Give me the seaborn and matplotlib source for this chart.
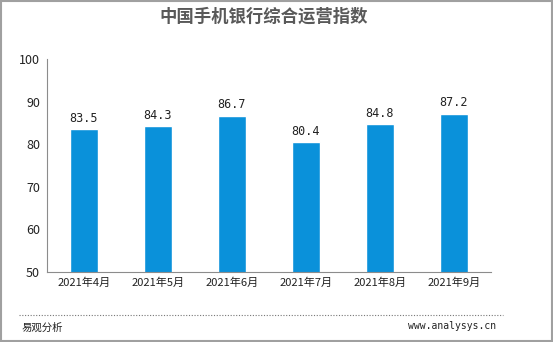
import matplotlib
matplotlib.use("Agg")
import matplotlib.pyplot as plt
import seaborn as sns
import pandas as pd
from matplotlib.patches import Rectangle
from matplotlib.lines import Line2D

months = ["2021年4月", "2021年5月", "2021年6月", "2021年7月", "2021年8月", "2021年9月"]
values = [83.5, 84.3, 86.7, 80.4, 84.8, 87.2]
yticks = [50, 60, 70, 80, 90, 100]
title = "中国手机银行综合运营指数"

sns.set_theme(style="white")
plt.rcParams['font.family'] = ['Noto Sans CJK SC', 'DejaVu Sans']

df = pd.DataFrame({"month": months, "value": values})

fig = plt.figure(figsize=(5.53, 3.42), dpi=100)
ax = fig.add_axes([47/553, 1 - 272/342, 444/553, (272-59)/342])
sns.barplot(data=df, x="month", y="value", color="#0A91DA", width=0.37,
            saturation=1, ax=ax)
ax.set_ylim(50, 100)
ax.set_yticks(yticks)
ax.set_xlabel("")
ax.set_ylabel("")
for s in ["top", "right"]:
    ax.spines[s].set_visible(False)
for s in ["left", "bottom"]:
    ax.spines[s].set_color("#8c8c8c")
    ax.spines[s].set_linewidth(0.8)
ax.tick_params(axis="y", direction="in", length=4, color="#8c8c8c", labelsize=9, pad=5, labelcolor="#222222")
ax.tick_params(axis="x", length=0, labelsize=8, pad=4, labelcolor="#222222")
for c in ax.containers:
    ax.bar_label(c, labels=[f"{v:.1f}" for v in values], padding=3,
                 fontsize=8.5, color="#222222", family=["DejaVu Sans Mono"])

fig.text(0.477, 1 - 17/342, title, ha="center", va="center", fontsize=12.5,
         fontweight="bold", color="#595959")
fig.add_artist(Line2D([19/553, 503/553], [1 - 315/342]*2, transform=fig.transFigure,
                      color="#777777", linestyle=(0, (1, 1.5)), linewidth=0.8))
fig.text(22/553, 1 - 328/342, "易观分析", ha="left", va="center", fontsize=7.5, color="#222222")
fig.text(496/553, 1 - 326/342, "www.analysys.cn", ha="right", va="center", fontsize=7,
         color="#222222", family=["DejaVu Sans Mono"])
fig.add_artist(Rectangle((0.001, 0.002), 0.997, 0.995, transform=fig.transFigure,
                         fill=False, edgecolor="#a0a0a0", linewidth=1.5))
fig.savefig("out.png", dpi=100)
